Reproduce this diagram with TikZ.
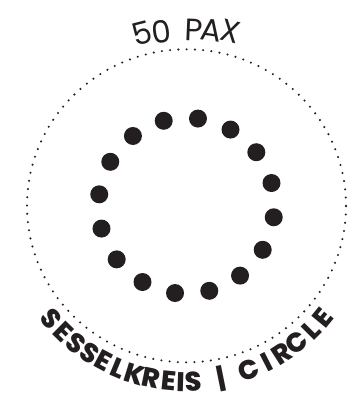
\documentclass[tikz,border=0pt]{standalone}
\usepackage{fontspec}
\setmainfont{Poppins}
\newfontfamily\paxfont{Poppins}
\newfontfamily\labelfont{Poppins ExtraBold}
\usetikzlibrary{calc}
\definecolor{ink}{RGB}{35,31,32}
\tikzset{
  seat/.style={circle, fill=ink, inner sep=0pt, minimum size=18pt},
  rim/.style={draw=ink, line width=2.3pt, line cap=round, dash pattern=on 0pt off 8.27pt},
  paxchar/.style={font=\paxfont\fontsize{31}{33}\selectfont, text=ink, inner sep=0pt, anchor=base},
  lblchar/.style={font=\labelfont\fontsize{27}{29}\selectfont, text=ink, inner sep=0pt, anchor=base},
}
\begin{document}
\begin{tikzpicture}[x=1pt,y=1pt]
\useasboundingbox (0,0) rectangle (360,394);
\coordinate (C) at (186.5,188.2);
% outer dotted ring
\path[rim] (C) ellipse[x radius=159.5, y radius=156.5];
% seats
\foreach \k in {0,...,15}{
  \node[seat] (s\k) at ($(C)+({82.5+22.5*\k}:88)$) {};
}
% top label: 50 PAX
\foreach \ch/\ang/\rr [count=\i] in {5/104.3/166.5, 0/98.3/164.8, P/87.6/165.3, A/82.0/166.5, X/76.0/169.2}{
  \node[paxchar, rotate=\ang-90] (t\i) at ($(C)+(\ang:\rr)$) {\ch};
}
% bottom label: SESSELKREIS | CIRCLE
\foreach \ch/\ang [count=\i] in {S/219.9, E/225.6, S/231.3, S/236.7, E/241.9, L/247.3, K/252.8, R/258.4, E/264.3, I/268.3, S/272.3, |/281.4, C/290.7, I/297.1, R/302.8, C/308.8, L/315.1, E/320.6}{
  \node[lblchar, rotate=\ang+90] (b\i) at ($(C)+(\ang:185.5)$) {\ch};
}
\end{tikzpicture}
\end{document}
